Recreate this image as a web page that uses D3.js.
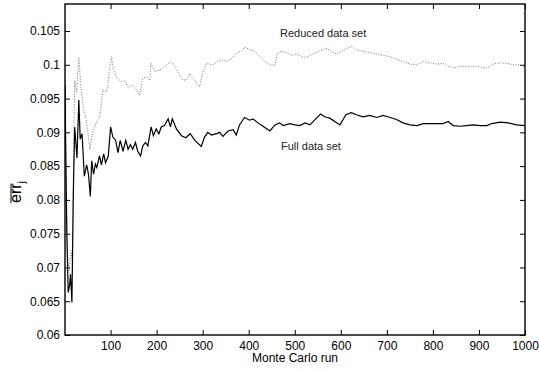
<!DOCTYPE html>
<html>
<head>
<meta charset="utf-8">
<script src="https://cdn.jsdelivr.net/npm/d3@7"></script>
<style>
  body { margin: 0; background: #fff; }
  svg { display: block; font-family: "Liberation Sans", Arial, Helvetica, sans-serif; }
</style>
</head>
<body>
<div id="chart"></div>
<script>
// Monte Carlo run index and running mean error
const runsFull = [1, 3, 5, 8, 11, 13, 16, 19, 22, 27, 31, 34, 38, 43, 48, 52, 56, 59, 63, 67, 70, 76, 80, 85, 89, 95,
  100, 105, 111, 116, 121, 127, 133, 138, 143, 148, 154, 159, 165, 170, 176, 181, 188, 193, 199, 205, 210, 217,
  225, 230, 234, 243, 254, 263, 273, 283, 297, 304, 311, 319, 330, 337, 344, 355, 366, 373, 380, 391, 402, 409,
  420, 431, 446, 457, 467, 475, 489, 500, 511, 522, 533, 543, 556, 565, 576, 587, 598, 605, 611, 623, 634, 648,
  663, 678, 692, 707, 721, 735, 750, 765, 779, 801, 822, 833, 844, 859, 873, 888, 902, 917, 928, 946, 964, 982, 1000];
const errFull = [0.097, 0.085, 0.075, 0.0663, 0.0674, 0.069, 0.0648, 0.0805, 0.0908, 0.0862, 0.0948, 0.089, 0.0898,
  0.0835, 0.0852, 0.0838, 0.0805, 0.0858, 0.0838, 0.0853, 0.0848, 0.0865, 0.0852, 0.0868, 0.0855, 0.0865,
  0.0908, 0.0893, 0.0888, 0.087, 0.0888, 0.0872, 0.0888, 0.0875, 0.0882, 0.0875, 0.0885, 0.0872, 0.0865, 0.088,
  0.0885, 0.088, 0.0908, 0.0895, 0.0905, 0.0898, 0.0908, 0.091, 0.092, 0.0908, 0.092, 0.0905, 0.0895, 0.0892,
  0.0898, 0.0888, 0.0879, 0.0893, 0.09, 0.0896, 0.0898, 0.09, 0.0894, 0.0902, 0.0904, 0.0896, 0.0911, 0.0922,
  0.0918, 0.092, 0.0914, 0.0909, 0.0902, 0.0911, 0.0914, 0.091, 0.0913, 0.0911, 0.091, 0.0914, 0.0911, 0.0918,
  0.0927, 0.0923, 0.0921, 0.0916, 0.0911, 0.0919, 0.0926, 0.0929, 0.0926, 0.0923, 0.0925, 0.0922, 0.0925,
  0.0922, 0.0919, 0.0914, 0.0911, 0.091, 0.0913, 0.0913, 0.0913, 0.0916, 0.091, 0.0909, 0.091, 0.0911, 0.091,
  0.091, 0.0913, 0.0915, 0.0914, 0.0911, 0.091];

const runsReduced = [1, 3, 6, 10, 14, 17, 20, 22, 26, 31, 36, 41, 46, 50, 55, 62, 69, 76, 79, 83, 91, 94, 98, 102,
  105, 112, 123, 130, 138, 148, 156, 163, 170, 178, 185, 188, 196, 206, 217, 228, 235, 246, 257, 265, 272, 283,
  293, 301, 308, 322, 333, 344, 352, 362, 373, 384, 391, 402, 413, 424, 435, 446, 457, 462, 471, 482, 493, 504,
  515, 525, 540, 554, 569, 580, 591, 602, 612, 623, 634, 648, 663, 678, 692, 707, 721, 735, 750, 765, 779, 793,
  808, 822, 833, 844, 859, 873, 888, 902, 917, 931, 946, 960, 975, 989, 1000];
const errReduced = [0.0985, 0.085, 0.072, 0.0695, 0.0725, 0.071, 0.088, 0.0977, 0.096, 0.101, 0.0963, 0.0935,
  0.0921, 0.0905, 0.0875, 0.0903, 0.0914, 0.0923, 0.0937, 0.0963, 0.096, 0.0968, 0.0997, 0.1012, 0.0997, 0.0982,
  0.0975, 0.0977, 0.0967, 0.097, 0.0963, 0.0955, 0.098, 0.0982, 0.0977, 0.1002, 0.099, 0.0992, 0.0997, 0.1004,
  0.1002, 0.099, 0.0977, 0.0978, 0.0987, 0.0977, 0.0967, 0.099, 0.1002, 0.1, 0.1005, 0.1007, 0.1005, 0.1009,
  0.1017, 0.102, 0.1026, 0.1023, 0.102, 0.1012, 0.1005, 0.1, 0.0999, 0.1017, 0.102, 0.1018, 0.1014, 0.1016,
  0.1012, 0.1011, 0.1016, 0.1021, 0.1024, 0.102, 0.1016, 0.102, 0.1024, 0.1027, 0.1022, 0.102, 0.1018, 0.1016,
  0.1014, 0.1012, 0.1008, 0.1005, 0.1001, 0.1, 0.1005, 0.1003, 0.1001, 0.1002, 0.0998, 0.0995, 0.0998, 0.0997,
  0.0998, 0.0997, 0.0995, 0.1001, 0.1003, 0.1002, 0.1, 0.1, 0.0997];

const xTicks = [100, 200, 300, 400, 500, 600, 700, 800, 900, 1000];
const yTicks = [0.06, 0.065, 0.07, 0.075, 0.08, 0.085, 0.09, 0.095, 0.1, 0.105];
const yTickLabels = ["0.06", "0.065", "0.07", "0.075", "0.08", "0.085", "0.09", "0.095", "0.1", "0.105"];

const width = 539, height = 370;
const margin = {top: 4, right: 14, bottom: 35, left: 65};
const w = width - margin.left - margin.right;
const h = height - margin.top - margin.bottom;

const svg = d3.select("#chart").append("svg")
    .attr("width", width)
    .attr("height", height);

const g = svg.append("g")
    .attr("transform", "translate(" + margin.left + "," + margin.top + ")");

const x = d3.scaleLinear().domain([1, 1000]).range([0, w]);
const y = d3.scaleLinear().domain([0.06, 0.109]).range([h, 0]);

g.append("clipPath").attr("id", "plot-clip")
  .append("rect").attr("width", w).attr("height", h);

// axes, MATLAB style: ticks point inwards, mirrored on top/right
const xAxis = d3.axisBottom(x).tickValues(xTicks).tickSizeInner(-5).tickSizeOuter(0).tickPadding(6)
    .tickFormat(d3.format("d"));
const yAxis = d3.axisLeft(y).tickValues(yTicks).tickSizeInner(-5).tickSizeOuter(0).tickPadding(5)
    .tickFormat((d, i) => yTickLabels[i]);

g.append("g").attr("class", "x axis")
    .attr("transform", "translate(0," + h + ")")
    .call(xAxis);
g.append("g").attr("class", "y axis").call(yAxis);
g.append("g").attr("class", "x2 axis")
    .call(d3.axisTop(x).tickValues(xTicks).tickSizeInner(-5).tickSizeOuter(0).tickFormat(""));
g.append("g").attr("class", "y2 axis")
    .attr("transform", "translate(" + w + ",0)")
    .call(d3.axisRight(y).tickValues(yTicks).tickSizeInner(-5).tickSizeOuter(0).tickFormat(""));

g.selectAll(".axis .domain").remove();
g.selectAll(".axis line").attr("stroke", "#000").attr("stroke-width", 1);
g.selectAll(".axis text")
    .attr("fill", "#000")
    .style("font-size", "12px")
    .style("font-family", "'Liberation Sans', Arial, sans-serif");

const line = d3.line()
    .x(d => x(d[0]))
    .y(d => y(d[1]));

const plot = g.append("g").attr("clip-path", "url(#plot-clip)");

plot.append("path")
    .datum(d3.zip(runsReduced, errReduced))
    .attr("fill", "none")
    .attr("stroke", "#666")
    .attr("stroke-width", 0.9)
    .attr("stroke-dasharray", "1,1.6")
    .attr("d", line);

plot.append("path")
    .datum(d3.zip(runsFull, errFull))
    .attr("fill", "none")
    .attr("stroke", "#000")
    .attr("stroke-width", 1.2)
    .attr("d", line);

// frame
g.append("rect")
    .attr("width", w)
    .attr("height", h)
    .attr("fill", "none")
    .attr("stroke", "#000")
    .attr("stroke-width", 1.4);

// annotations
g.append("text")
    .attr("x", 280 - margin.left)
    .attr("y", 37 - margin.top)
    .style("font-size", "11px")
    .attr("fill", "#222")
    .text("Reduced data set");
g.append("text")
    .attr("x", 281 - margin.left)
    .attr("y", 150 - margin.top)
    .style("font-size", "11px")
    .attr("fill", "#222")
    .text("Full data set");

// axis labels
svg.append("text")
    .attr("x", margin.left + w / 2)
    .attr("y", 362)
    .attr("text-anchor", "middle")
    .style("font-size", "12px")
    .text("Monte Carlo run");

const yl = svg.append("g").attr("transform", "translate(21,192) rotate(-90)");
const errText = yl.append("text")
    .attr("text-anchor", "middle")
    .style("font-size", "16px");
errText.append("tspan").text("err");
errText.append("tspan")
    .attr("dy", 4)
    .style("font-size", "11px")
    .text("j");
const ew = errText.select("tspan").node().getComputedTextLength();
const tw = errText.node().getComputedTextLength();
yl.append("line")
    .attr("x1", -tw / 2)
    .attr("x2", -tw / 2 + ew)
    .attr("y1", -10)
    .attr("y2", -10)
    .attr("stroke", "#000")
    .attr("stroke-width", 1);
</script>
</body>
</html>
